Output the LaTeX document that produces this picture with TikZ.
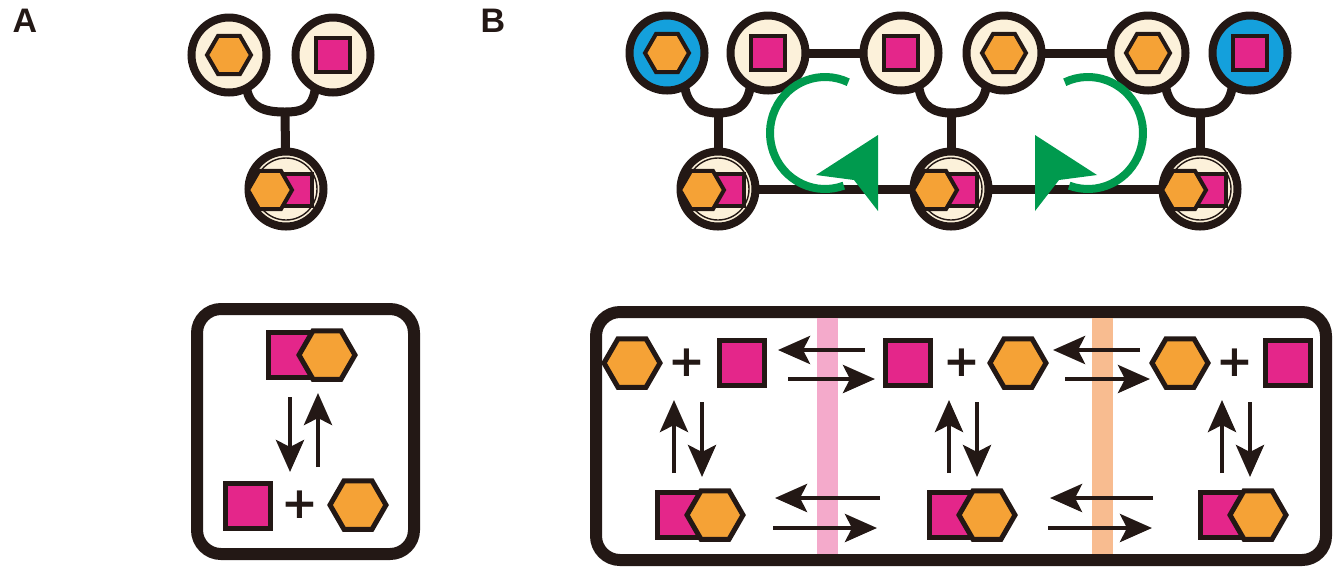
\documentclass[tikz,border=0pt]{standalone}
\usepackage{fontspec}
\setmainfont{Liberation Sans}
\newfontfamily\plusfont{DejaVu Sans}
\usetikzlibrary{shapes.geometric,arrows.meta,calc}
\definecolor{ink}{HTML}{231815}
\definecolor{sitecream}{HTML}{FCF1DA}
\definecolor{molpink}{HTML}{E4268A}
\definecolor{molorange}{HTML}{F5A236}
\definecolor{siteblue}{HTML}{14A0DC}
\definecolor{flowgreen}{HTML}{009A4E}
\definecolor{bandpink}{HTML}{F4AACB}
\definecolor{bandorange}{HTML}{F8BC90}
\pgfdeclarelayer{links}
\pgfsetlayers{links,main}
\tikzset{
  sq/.style={rectangle, draw=ink, fill=molpink, line width=2.5pt, minimum size=22.5pt, inner sep=0pt, outer sep=0pt},
  hexa/.style={regular polygon, regular polygon sides=6, draw=ink, fill=molorange, line width=2.5pt, minimum size=28pt, inner sep=0pt, outer sep=0pt},
  ssq/.style={sq, line width=2pt, minimum size=17pt},
  shex/.style={hexa, line width=2pt, minimum size=22pt},
  cplxsq/.style={sq, line width=2pt, minimum width=19pt, minimum height=16pt},
  site/.style={circle, draw=ink, fill=sitecream, line width=4pt, minimum size=37.5pt, inner sep=0pt, outer sep=0pt},
  endsite/.style={site, fill=siteblue},
  link/.style={draw=ink, line width=4.5pt},
  ring/.style={draw=ink, line width=0.7pt},
  plus/.style={font=\plusfont\bfseries\fontsize{22}{22}\selectfont, text=ink, inner sep=0pt},
  rxn/.style={draw=ink, line width=2.3pt, -{Stealth[length=16pt, width=14pt, inset=3.5pt]}},
  panelbox/.style={draw=ink, line width=6pt, rounded corners=12pt, inner sep=0pt},
  panel/.style={font=\bfseries\fontsize{17}{17}\selectfont, text=ink, inner sep=0pt},
  swirl/.style={draw=flowgreen, line width=4pt},
}
\begin{document}
\begin{tikzpicture}[x=0.5pt,y=-0.5pt]
\useasboundingbox (0,0) rectangle (1333,569);

% panel letters
\node[panel] (labA) at (25,21) {A};
\node[panel] (labB) at (493,21) {B};

% ---------- A: two sites tethered to a shared complex site
\node[site] (a1) at (229,55) {};
\node[site] (a2) at (333,55) {};
\node[site] (a3) at (286,189) {};
\coordinate (ja) at (285,112);
\begin{pgfonlayer}{links}
  \draw[link] (a1.-62) .. controls +(3,22) and +(-15,0) .. (ja)
              .. controls +(15,0) and +(-3,22) .. (a2.-118);
  \draw[link] (ja) -- (a3);
\end{pgfonlayer}
\node[shex] (a1h) at (a1) {};
\node[ssq] (a2s) at (a2) {};
\draw[ring] (a3) circle[radius=31];
\node[cplxsq] (a3s) at ($(a3)+(7,1)$) {};
\node[shex] (a3h) at ($(a3)+(-16,1)$) {};

% ---------- A: binding equilibrium
\node[panelbox, minimum width=108.5pt, minimum height=122.5pt] (boxA) at (305.5,431.5) {};
\node[sq] (qa) at (291,355) {};
\node[hexa] (ha) at (327,355) {};
\node[sq] (qb) at (248,506) {};
\node[plus] (pa) at (300,505) {+};
\node[hexa] (hb) at (358,505) {};
\draw[rxn] ($(qa)+(-1,42)$) -- ($(pa)+(-10,-33)$);
\draw[rxn] ($(pa)+(18,-38)$) -- ($(qa)+(27,38)$);

% ---------- B: chain of sites
\node[endsite] (c1) at (667,53) {};
\node[site] (c2) at (768,53) {};
\node[site] (c3) at (901,53) {};
\node[site] (c4) at (1004,53) {};
\node[site] (c5) at (1148,53) {};
\node[endsite] (c6) at (1250,53) {};
\node[site] (b1) at (718,189) {};
\node[site] (b2) at (951,189) {};
\node[site] (b3) at (1200,189) {};
\coordinate (j1) at (718,113);
\coordinate (j2) at (951,113);
\coordinate (j3) at (1200,113);
\begin{pgfonlayer}{links}
  \draw[link] (c1.-62) .. controls +(3,22) and +(-15,0) .. (j1)
              .. controls +(15,0) and +(-3,22) .. (c2.-118);
  \draw[link] (c3.-62) .. controls +(3,22) and +(-15,0) .. (j2)
              .. controls +(15,0) and +(-3,22) .. (c4.-118);
  \draw[link] (c5.-62) .. controls +(3,22) and +(-15,0) .. (j3)
              .. controls +(15,0) and +(-3,22) .. (c6.-118);
  \draw[link] (j1) -- (b1);
  \draw[link] (j2) -- (b2);
  \draw[link] (j3) -- (b3);
  \draw[link] (c2) -- (c3);
  \draw[link] (c4) -- (c5);
  \draw[link] (b1) -- (b2) -- (b3);
\end{pgfonlayer}
\node[shex] (c1h) at (c1) {};
\node[ssq] (c2s) at (c2) {};
\node[ssq] (c3s) at (c3) {};
\node[shex] (c4h) at (c4) {};
\node[shex] (c5h) at (c5) {};
\node[ssq] (c6s) at (c6) {};
\foreach \b in {b1,b2,b3}{
  \draw[ring] (\b) circle[radius=31];
  \node[cplxsq] (\b s) at ($(\b)+(7,1)$) {};
  \node[shex] (\b h) at ($(\b)+(-16,1)$) {};
}

% exchange swirls
\draw[swirl] (825,133) ++(-65:55 and 56) arc[start angle=-65, end angle=-290, x radius=55, y radius=56];
\fill[flowgreen] (878,135) -- (816,175) -- (854,180) -- (878,211) -- cycle;
\draw[swirl] (1088,133) ++(-115:55 and 56) arc[start angle=-115, end angle=110, x radius=55, y radius=56];
\fill[flowgreen] (1035,135) -- (1097,175) -- (1059,180) -- (1035,211) -- cycle;

% ---------- B: coupled equilibria
\node[panelbox, minimum width=365pt, minimum height=124pt] (boxB) at (961,436) {};
\fill[bandpink] (817,318) rectangle (838,554);
\fill[bandorange] (1092,318) rectangle (1113,554);

\node[hexa] (h1) at (632,363) {};
\node[plus] (p1) at (687,363) {+};
\node[sq] (s1) at (742,363) {};
\node[sq] (s2) at (908,363) {};
\node[plus] (p2) at (962,363) {+};
\node[hexa] (h2) at (1018,363) {};
\node[hexa] (h3) at (1180,363) {};
\node[plus] (p3) at (1235,363) {+};
\node[sq] (s3) at (1288,363) {};

\node[sq] (bq1) at (680,515) {};
\node[hexa] (bh1) at (715,515) {};
\node[sq] (bq2) at (952,515) {};
\node[hexa] (bh2) at (987,515) {};
\node[sq] (bq3) at (1223,515) {};
\node[hexa] (bh3) at (1258,515) {};

% top row exchanges
\draw[rxn] ($(s2)+(-43,-13)$) -- ($(s1)+(36,-13)$);
\draw[rxn] ($(s1)+(46,16)$) -- ($(s2)+(-33,16)$);
\draw[rxn] ($(h3)+(-40,-13)$) -- ($(h2)+(35,-13)$);
\draw[rxn] ($(h2)+(47,16)$) -- ($(h3)+(-30,16)$);
% bottom row exchanges
\draw[rxn] ($(bq2)+(-72,-17)$) -- ($(bh1)+(60,-17)$);
\draw[rxn] ($(bh1)+(58,13)$) -- ($(bq2)+(-75,13)$);
\draw[rxn] ($(bq3)+(-70,-17)$) -- ($(bh2)+(63,-17)$);
\draw[rxn] ($(bh2)+(61,13)$) -- ($(bq3)+(-71,13)$);
% binding steps
\foreach \p in {p1,p2,p3}{
  \draw[rxn] ($(\p)+(-13,110)$) -- ($(\p)+(-13,37)$);
  \draw[rxn] ($(\p)+(15,39)$) -- ($(\p)+(15,114)$);
}
\end{tikzpicture}
\end{document}
